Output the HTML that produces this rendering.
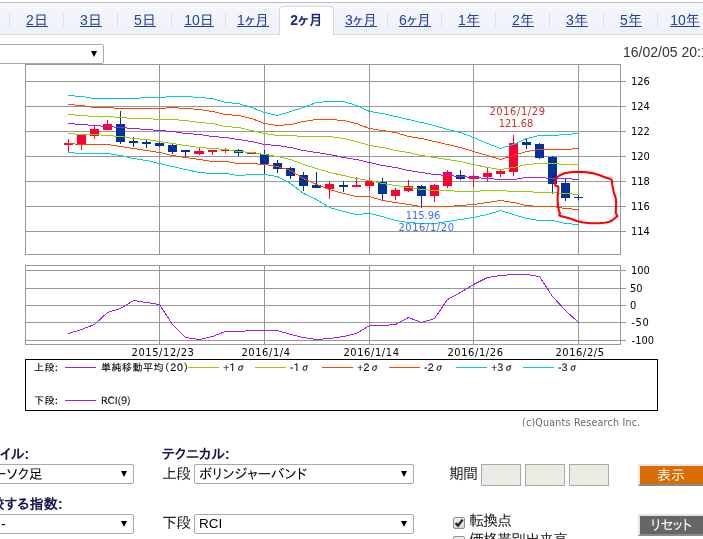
<!DOCTYPE html>
<html lang="ja"><head><meta charset="utf-8"><title>chart</title>
<style>
html,body{margin:0;padding:0;background:#fff;}
body{width:703px;height:539px;position:relative;overflow:hidden;font-family:"Liberation Sans","IPAPGothic","IPAGothic","Noto Sans CJK JP",sans-serif;color:#000;}
.abs{position:absolute;white-space:nowrap;}
.chart{position:absolute;left:0;top:0;}
#tabbar{position:absolute;left:0;top:2px;width:703px;height:33px;background:linear-gradient(#f6f7fc,#eef1f9);border-top:1px solid #bdbdbd;border-bottom:1px solid #dcdee4;box-sizing:border-box;}
.tab{position:absolute;top:6px;width:55px;height:28px;text-align:center;font-size:14px;line-height:29px;color:#2342a6;box-sizing:border-box;padding-left:1px;}
.tab a{text-decoration:underline;color:#2342a6;}
.tab.act{background:#fff;border:1px solid #d5d8e5;border-bottom:none;border-radius:4px 4px 0 0;height:29px;line-height:27px;color:#1c2a80;padding-left:0;letter-spacing:0.2px;}
.sep{position:absolute;top:13px;width:1px;height:14px;background:#dddfe5;}
.ax{position:absolute;font-family:"DejaVu Sans Condensed","DejaVu Sans","Liberation Sans",sans-serif;font-size:11px;line-height:11px;white-space:nowrap;color:#000;}
.axd{letter-spacing:0.6px;}
.lg{-webkit-text-stroke:0.1px #000;position:absolute;font-family:"IPAPGothic","IPAGothic","Noto Sans CJK JP",sans-serif;font-size:10px;line-height:10px;white-space:nowrap;color:#000;}
.sel{position:absolute;box-sizing:border-box;height:20px;border:1px solid #a9a9a9;border-radius:2px;background:#fff;font-size:14px;line-height:18px;padding-left:4px;white-space:nowrap;overflow:hidden;}
.sel:after{content:"";position:absolute;right:6px;top:6px;border-left:3.5px solid transparent;border-right:3.5px solid transparent;border-top:6px solid #000;}
.lab{position:absolute;font-size:15px;line-height:14px;letter-spacing:-1px;white-space:nowrap;color:#222;}
.blab{position:absolute;font-size:14px;line-height:14px;font-weight:bold;white-space:nowrap;color:#15154f;}
.inp{position:absolute;box-sizing:border-box;width:40px;height:22px;top:464px;background:#ebebe4;border:1px solid #a9a9a9;}
.btn{position:absolute;left:638px;width:72px;padding-right:6px;height:22px;box-sizing:border-box;border:2px solid;border-color:#e4e4e4 #8a8a8a #8a8a8a #e4e4e4;color:#fff;font-size:14px;line-height:18px;text-align:center;}
</style></head><body>
<div id="tabbar"></div>
<i class="sep" style="left:9px"></i><i class="sep" style="left:63px"></i><i class="sep" style="left:117px"></i><i class="sep" style="left:171px"></i><i class="sep" style="left:225px"></i><i class="sep" style="left:387px"></i><i class="sep" style="left:441px"></i><i class="sep" style="left:495px"></i><i class="sep" style="left:549px"></i><i class="sep" style="left:603px"></i><i class="sep" style="left:657px"></i><i class="sep" style="left:711px"></i>
<div class="tab" style="left:9px"><a>2日</a></div>
<div class="tab" style="left:63px"><a>3日</a></div>
<div class="tab" style="left:117px"><a>5日</a></div>
<div class="tab" style="left:171px"><a>10日</a></div>
<div class="tab" style="left:225px"><a>1ヶ月</a></div>
<div class="tab act" style="left:279px"><b>2ヶ月</b></div>
<div class="tab" style="left:333px"><a>3ヶ月</a></div>
<div class="tab" style="left:387px"><a>6ヶ月</a></div>
<div class="tab" style="left:441px"><a>1年</a></div>
<div class="tab" style="left:495px"><a>2年</a></div>
<div class="tab" style="left:549px"><a>3年</a></div>
<div class="tab" style="left:603px"><a>5年</a></div>
<div class="tab" style="left:657px"><a>10年</a></div>
<svg class="chart" width="703" height="539" viewBox="0 0 703 539" shape-rendering="crispEdges">
<g fill="#999999"><rect x="25" y="81" width="601" height="1"/><rect x="25" y="106" width="601" height="1"/><rect x="25" y="131" width="601" height="1"/><rect x="25" y="156" width="601" height="1"/><rect x="25" y="181" width="601" height="1"/><rect x="25" y="206" width="601" height="1"/><rect x="25" y="231" width="601" height="1"/><rect x="25" y="270" width="601" height="1"/><rect x="25" y="288" width="601" height="1"/><rect x="25" y="305" width="601" height="1"/><rect x="25" y="322" width="601" height="1"/><rect x="25" y="340" width="601" height="1"/><rect x="159" y="64" width="1" height="190"/><rect x="159" y="265" width="1" height="80"/><rect x="264" y="64" width="1" height="190"/><rect x="264" y="265" width="1" height="80"/><rect x="369" y="64" width="1" height="190"/><rect x="369" y="265" width="1" height="80"/><rect x="473" y="64" width="1" height="190"/><rect x="473" y="265" width="1" height="80"/><rect x="578" y="64" width="1" height="190"/><rect x="578" y="265" width="1" height="80"/></g>
<g fill="none" stroke="#999999" stroke-width="1"><rect x="25.5" y="64.5" width="595" height="190"/><rect x="25.5" y="265.5" width="595" height="79"/></g>
<g fill="#ff0033"><rect x="68" y="139" width="1" height="13"/><rect x="64" y="143" width="9" height="2"/></g><g fill="#ff0033"><rect x="81" y="135" width="1" height="15"/><rect x="77" y="135" width="9" height="9"/></g><g fill="#ff0033"><rect x="94" y="126" width="1" height="13"/><rect x="90" y="129" width="9" height="7"/></g><g fill="#ff0033"><rect x="107" y="120" width="1" height="10"/><rect x="103" y="124" width="9" height="6"/></g><g fill="#003399"><rect x="120" y="111" width="1" height="33"/><rect x="116" y="124" width="9" height="18"/></g><g fill="#003399"><rect x="133" y="137" width="1" height="10"/><rect x="129" y="141" width="9" height="2"/></g><g fill="#003399"><rect x="146" y="140" width="1" height="8"/><rect x="142" y="142" width="9" height="2"/></g><g fill="#003399"><rect x="159" y="142" width="1" height="5"/><rect x="155" y="143" width="9" height="3"/></g><g fill="#003399"><rect x="172" y="144" width="1" height="10"/><rect x="168" y="145" width="9" height="7"/></g><g fill="#003399"><rect x="185" y="150" width="1" height="7"/><rect x="181" y="150" width="9" height="2"/></g><g fill="#ff0033"><rect x="199" y="148" width="1" height="7"/><rect x="194" y="151" width="10" height="3"/></g><g fill="#ff0033"><rect x="212" y="150" width="1" height="5"/><rect x="208" y="150" width="9" height="2"/></g><g fill="#ff0033"><rect x="225" y="148" width="1" height="5"/><rect x="221" y="150" width="9" height="1"/></g><g fill="#003399"><rect x="238" y="149" width="1" height="7"/><rect x="234" y="150" width="9" height="3"/></g><g fill="#ff0033"><rect x="251" y="152" width="1" height="2"/><rect x="247" y="152" width="9" height="2"/></g><g fill="#003399"><rect x="264" y="150" width="1" height="24"/><rect x="260" y="154" width="9" height="10"/></g><g fill="#003399"><rect x="277" y="160" width="1" height="13"/><rect x="273" y="163" width="9" height="6"/></g><g fill="#003399"><rect x="290" y="167" width="1" height="12"/><rect x="286" y="168" width="9" height="8"/></g><g fill="#003399"><rect x="303" y="172" width="1" height="19"/><rect x="299" y="175" width="9" height="11"/></g><g fill="#003399"><rect x="316" y="172" width="1" height="16"/><rect x="312" y="185" width="9" height="3"/></g><g fill="#ff0033"><rect x="329" y="181" width="1" height="18"/><rect x="325" y="184" width="9" height="5"/></g><g fill="#003399"><rect x="343" y="181" width="1" height="11"/><rect x="339" y="185" width="9" height="2"/></g><g fill="#ff0033"><rect x="356" y="177" width="1" height="10"/><rect x="352" y="185" width="9" height="2"/></g><g fill="#ff0033"><rect x="369" y="178" width="1" height="13"/><rect x="365" y="181" width="9" height="5"/></g><g fill="#003399"><rect x="382" y="178" width="1" height="22"/><rect x="378" y="182" width="9" height="12"/></g><g fill="#ff0033"><rect x="395" y="188" width="1" height="12"/><rect x="391" y="190" width="9" height="6"/></g><g fill="#ff0033"><rect x="408" y="180" width="1" height="12"/><rect x="404" y="186" width="9" height="5"/></g><g fill="#003399"><rect x="421" y="185" width="1" height="23"/><rect x="417" y="186" width="9" height="10"/></g><g fill="#ff0033"><rect x="434" y="184" width="1" height="18"/><rect x="430" y="185" width="9" height="11"/></g><g fill="#ff0033"><rect x="447" y="170" width="1" height="18"/><rect x="443" y="172" width="9" height="14"/></g><g fill="#003399"><rect x="460" y="170" width="1" height="10"/><rect x="456" y="175" width="9" height="4"/></g><g fill="#ff0033"><rect x="473" y="174" width="1" height="13"/><rect x="469" y="176" width="10" height="3"/></g><g fill="#ff0033"><rect x="487" y="168" width="1" height="14"/><rect x="483" y="173" width="9" height="4"/></g><g fill="#ff0033"><rect x="500" y="170" width="1" height="7"/><rect x="496" y="171" width="9" height="3"/></g><g fill="#ff0033"><rect x="513" y="135" width="1" height="41"/><rect x="509" y="143" width="9" height="29"/></g><g fill="#003399"><rect x="526" y="138" width="1" height="11"/><rect x="522" y="142" width="9" height="3"/></g><g fill="#003399"><rect x="539" y="143" width="1" height="16"/><rect x="535" y="144" width="9" height="14"/></g><g fill="#003399"><rect x="552" y="156" width="1" height="38"/><rect x="548" y="157" width="9" height="27"/></g><g fill="#003399"><rect x="565" y="179" width="1" height="22"/><rect x="561" y="183" width="9" height="15"/></g><g fill="#003399"><rect x="578" y="194" width="1" height="6"/><rect x="574" y="197" width="9" height="1"/></g>
<polyline fill="none" stroke="#00ced1" stroke-width="1" stroke-linecap="square" points="68.5,95.5 81.5,96.5 94.5,98.5 107.5,98.5 120.5,98.5 133.5,98.5 146.5,97.5 159.5,97.5 172.5,96.5 185.5,96.5 199.5,97.5 212.5,98.5 225.5,102.5 238.5,103.5 251.5,107.5 264.5,112.5 277.5,115.5 290.5,111.5 303.5,107.5 316.5,102.5 329.5,101.5 343.5,101.5 356.5,105.5 369.5,111.5 382.5,113.5 395.5,116.5 408.5,119.5 421.5,122.5 434.5,125.5 447.5,129.5 460.5,132.5 473.5,137.5 487.5,143.5 500.5,148.5 513.5,144.5 526.5,138.5 539.5,135.5 552.5,135.5 565.5,134.5 578.5,133.5"/>
<polyline fill="none" stroke="#00ced1" stroke-width="1" stroke-linecap="square" points="68.5,152.5 81.5,153.5 94.5,153.5 107.5,153.5 120.5,155.5 133.5,158.5 146.5,160.5 159.5,163.5 172.5,166.5 185.5,169.5 199.5,172.5 212.5,173.5 225.5,173.5 238.5,175.5 251.5,174.5 264.5,174.5 277.5,176.5 290.5,183.5 303.5,193.5 316.5,199.5 329.5,207.5 343.5,211.5 356.5,214.5 369.5,213.5 382.5,216.5 395.5,220.5 408.5,222.5 421.5,223.5 434.5,223.5 447.5,221.5 460.5,219.5 473.5,217.5 487.5,214.5 500.5,210.5 513.5,214.5 526.5,218.5 539.5,220.5 552.5,220.5 565.5,223.5 578.5,224.5"/>
<polyline fill="none" stroke="#ff4500" stroke-width="1" stroke-linecap="square" points="68.5,104.5 81.5,105.5 94.5,107.5 107.5,107.5 120.5,108.5 133.5,108.5 146.5,108.5 159.5,108.5 172.5,107.5 185.5,108.5 199.5,109.5 212.5,111.5 225.5,114.5 238.5,115.5 251.5,118.5 264.5,123.5 277.5,125.5 290.5,124.5 303.5,121.5 316.5,119.5 329.5,119.5 343.5,120.5 356.5,123.5 369.5,128.5 382.5,130.5 395.5,132.5 408.5,136.5 421.5,138.5 434.5,141.5 447.5,144.5 460.5,147.5 473.5,151.5 487.5,155.5 500.5,159.5 513.5,155.5 526.5,151.5 539.5,149.5 552.5,149.5 565.5,149.5 578.5,148.5"/>
<polyline fill="none" stroke="#ff4500" stroke-width="1" stroke-linecap="square" points="68.5,143.5 81.5,144.5 94.5,144.5 107.5,144.5 120.5,146.5 133.5,148.5 146.5,150.5 159.5,152.5 172.5,155.5 185.5,157.5 199.5,159.5 212.5,161.5 225.5,161.5 238.5,163.5 251.5,163.5 264.5,164.5 277.5,166.5 290.5,170.5 303.5,178.5 316.5,184.5 329.5,189.5 343.5,193.5 356.5,196.5 369.5,196.5 382.5,200.5 395.5,202.5 408.5,204.5 421.5,206.5 434.5,206.5 447.5,206.5 460.5,205.5 473.5,204.5 487.5,202.5 500.5,200.5 513.5,202.5 526.5,205.5 539.5,206.5 552.5,206.5 565.5,208.5 578.5,209.5"/>
<polyline fill="none" stroke="#99cc00" stroke-width="1" stroke-linecap="square" points="68.5,114.5 81.5,115.5 94.5,116.5 107.5,116.5 120.5,117.5 133.5,118.5 146.5,118.5 159.5,119.5 172.5,119.5 185.5,120.5 199.5,122.5 212.5,123.5 225.5,126.5 238.5,127.5 251.5,130.5 264.5,133.5 277.5,135.5 290.5,135.5 303.5,136.5 316.5,136.5 329.5,136.5 343.5,138.5 356.5,141.5 369.5,145.5 382.5,147.5 395.5,150.5 408.5,152.5 421.5,155.5 434.5,157.5 447.5,159.5 460.5,161.5 473.5,164.5 487.5,167.5 500.5,169.5 513.5,167.5 526.5,164.5 539.5,163.5 552.5,163.5 565.5,164.5 578.5,164.5"/>
<polyline fill="none" stroke="#99cc00" stroke-width="1" stroke-linecap="square" points="68.5,133.5 81.5,134.5 94.5,134.5 107.5,135.5 120.5,136.5 133.5,138.5 146.5,139.5 159.5,141.5 172.5,143.5 185.5,145.5 199.5,147.5 212.5,148.5 225.5,149.5 238.5,151.5 251.5,152.5 264.5,154.5 277.5,156.5 290.5,159.5 303.5,164.5 316.5,168.5 329.5,172.5 343.5,175.5 356.5,178.5 369.5,180.5 382.5,183.5 395.5,185.5 408.5,187.5 421.5,189.5 434.5,190.5 447.5,190.5 460.5,191.5 473.5,191.5 487.5,190.5 500.5,190.5 513.5,191.5 526.5,191.5 539.5,192.5 552.5,192.5 565.5,193.5 578.5,194.5"/>
<polyline fill="none" stroke="#a020f0" stroke-width="1" stroke-linecap="square" points="68.5,123.5 81.5,124.5 94.5,125.5 107.5,126.5 120.5,127.5 133.5,128.5 146.5,129.5 159.5,130.5 172.5,131.5 185.5,133.5 199.5,134.5 212.5,136.5 225.5,137.5 238.5,139.5 251.5,141.5 264.5,144.5 277.5,145.5 290.5,147.5 303.5,150.5 316.5,152.5 329.5,154.5 343.5,157.5 356.5,159.5 369.5,162.5 382.5,165.5 395.5,167.5 408.5,170.5 421.5,172.5 434.5,174.5 447.5,175.5 460.5,176.5 473.5,177.5 487.5,178.5 500.5,179.5 513.5,179.5 526.5,177.5 539.5,177.5 552.5,178.5 565.5,178.5 578.5,179.5"/>
<polyline fill="none" stroke="#a020f0" stroke-width="1" stroke-linecap="square" points="68.5,333.5 81.5,329.5 94.5,324.5 107.5,312.5 120.5,308.5 133.5,300.5 146.5,302.5 159.5,304.5 172.5,324.5 185.5,337.5 199.5,339.5 212.5,336.5 225.5,331.5 238.5,331.5 251.5,330.5 264.5,330.5 277.5,330.5 290.5,334.5 303.5,337.5 316.5,339.5 329.5,338.5 343.5,336.5 356.5,333.5 369.5,325.5 382.5,325.5 395.5,324.5 408.5,317.5 421.5,322.5 434.5,318.5 447.5,299.5 460.5,292.5 473.5,284.5 487.5,277.5 500.5,275.5 513.5,274.5 526.5,274.5 539.5,276.5 552.5,296.5 565.5,310.5 578.5,322.5"/>
<rect x="25.5" y="359.5" width="632" height="51" fill="#fff" stroke="#000" stroke-width="1"/>
<rect x="65" y="367" width="31" height="1" fill="#a020f0"/>
<rect x="188" y="367" width="31" height="1" fill="#99cc00"/>
<rect x="255" y="367" width="31" height="1" fill="#99cc00"/>
<rect x="322" y="367" width="31" height="1" fill="#ff4500"/>
<rect x="389" y="367" width="31" height="1" fill="#ff4500"/>
<rect x="456" y="367" width="31" height="1" fill="#00ced1"/>
<rect x="523" y="367" width="31" height="1" fill="#00ced1"/>
<rect x="65" y="400" width="31" height="1" fill="#a020f0"/>
</svg>
<div class="sel" style="left:-40px;top:44px;width:144px;"></div>
<div class="abs" style="left:623px;top:44px;font-size:14px;line-height:16px;color:#333;">16/02/05 20:15</div>
<div class="ax" style="left:631px;top:76px;">126</div>
<div class="ax" style="left:631px;top:101px;">124</div>
<div class="ax" style="left:631px;top:126px;">122</div>
<div class="ax" style="left:631px;top:151px;">120</div>
<div class="ax" style="left:631px;top:176px;">118</div>
<div class="ax" style="left:631px;top:201px;">116</div>
<div class="ax" style="left:631px;top:226px;">114</div>
<div class="ax" style="left:631px;top:265px;">100</div>
<div class="ax" style="left:630px;top:283px;">50</div>
<div class="ax" style="left:630px;top:300px;">0</div>
<div class="ax" style="left:631.2px;top:317px;letter-spacing:0.7px;">-50</div>
<div class="ax" style="left:631.6px;top:335px;">-100</div>
<div class="ax axd" style="left:163px;top:347px;width:100px;margin-left:-50px;text-align:center;">2015/12/23</div>
<div class="ax axd" style="left:266px;top:347px;width:100px;margin-left:-50px;text-align:center;">2016/1/4</div>
<div class="ax axd" style="left:371.5px;top:347px;width:100px;margin-left:-50px;text-align:center;">2016/1/14</div>
<div class="ax axd" style="left:475.5px;top:347px;width:100px;margin-left:-50px;text-align:center;">2016/1/26</div>
<div class="ax axd" style="left:580px;top:347px;width:100px;margin-left:-50px;text-align:center;">2016/2/5</div>
<div class="ax axd" style="left:517.5px;top:106px;width:100px;margin-left:-50px;text-align:center;color:#c83232;">2016/1/29</div>
<div class="ax" style="left:516px;top:118px;width:100px;margin-left:-50px;text-align:center;color:#c83232;">121.68</div>
<div class="ax" style="left:423px;top:210px;width:100px;margin-left:-50px;text-align:center;color:#3a6bff;">115.96</div>
<div class="ax axd" style="left:426.5px;top:222px;width:100px;margin-left:-50px;text-align:center;color:#3a6bff;">2016/1/20</div>
<svg class="chart" width="703" height="539" viewBox="0 0 703 539"><path d="M555.3,180.2 L556.7,177.5 L560.0,175.2 L564.5,173.3 L570.0,172.2 L577.8,171.7 L584.5,172.0 L592.3,173.1 L599.0,174.9 L605.6,177.5 L610.6,179.1 L611.8,180.2 L612.3,184.7 L613.4,190.3 L614.5,194.7 L615.7,198.0 L616.2,202.5 L615.9,208.1 L615.7,212.5 L616.8,215.3 L617.5,216.1 L615.7,217.5 L612.3,220.3 L609.0,222.0 L604.5,222.8 L597.9,223.3 L591.2,223.3 L583.4,222.5 L576.7,220.9 L570.0,218.6 L564.5,217.0 L560.6,216.1 L559.1,215.3 L560.0,213.6 L558.9,210.3 L558.0,205.8 L557.6,200.3 L557.8,194.7 L558.3,190.3 L558.3,186.4 L555.6,185.8 L554.7,183.6 L555.3,180.2Z" fill="none" stroke="#ff0000" stroke-width="2.1" stroke-linejoin="round"/></svg>
<div class="lg" style="left:34px;top:362px;letter-spacing:0.4px;">上段:</div>
<div class="lg" style="left:101px;top:362px;letter-spacing:0.5px;">単純移動平均（20）</div>
<div class="lg" style="left:223px;top:362px;">+1σ</div>
<div class="lg" style="left:290px;top:362px;">-1σ</div>
<div class="lg" style="left:357px;top:362px;">+2σ</div>
<div class="lg" style="left:424px;top:362px;">-2σ</div>
<div class="lg" style="left:491px;top:362px;">+3σ</div>
<div class="lg" style="left:558px;top:362px;">-3σ</div>
<div class="lg" style="left:34px;top:395px;letter-spacing:0.4px;">下段:</div>
<div class="lg" style="left:101px;top:395px;">RCI(9)</div>
<div class="abs" style="left:522px;top:416px;height:10.5px;overflow:hidden;font-size:10.5px;line-height:12px;letter-spacing:0.25px;color:#666;font-family:'DejaVu Sans Condensed','DejaVu Sans',sans-serif;">(c)Quants Research Inc.</div>

<div class="blab" style="left:-24px;top:447px;">スタイル:</div>
<div class="sel" style="left:-30px;top:464px;width:164px;padding-left:10px;">ローソク足</div>
<div class="blab" style="left:162px;top:447px;">テクニカル:</div>
<div class="lab" style="left:162px;top:467px;">上段</div>
<div class="sel" style="left:194px;top:464px;width:220px;">ボリンジャーバンド</div>
<div class="lab" style="left:449px;top:467px;">期間</div>
<div class="inp" style="left:481px;"></div><div class="inp" style="left:525px;"></div><div class="inp" style="left:569px;"></div>
<div class="btn" style="top:464px;background:#d96b00;">表示</div>

<div class="blab" style="left:-24px;top:497px;letter-spacing:0.3px;">比較する指数:</div>
<div class="sel" style="left:-30px;top:514px;width:164px;padding-left:30px;">-</div>
<div class="lab" style="left:162px;top:516px;">下段</div>
<div class="sel" style="left:194px;top:514px;width:220px;font-size:13.5px;">RCI</div>
<div class="abs" style="left:453px;top:517px;width:12px;height:12px;box-sizing:border-box;border:1px solid #8f8f8f;border-radius:2px;background:linear-gradient(#efefef,#d8d8d8);"><svg width="10" height="10" viewBox="0 0 10 10" style="position:absolute;left:0;top:0"><path d="M1.6 5 L4 7.6 L8.6 1.6" fill="none" stroke="#262626" stroke-width="2.3"/></svg></div>
<div class="lab" style="left:469px;top:514px;">転換点</div>
<div class="btn" style="top:514px;background:#666;letter-spacing:-0.6px;">リセット</div>
<div class="abs" style="left:453px;top:536px;width:12px;height:12px;box-sizing:border-box;border:1px solid #8f8f8f;border-radius:2px;background:linear-gradient(#efefef,#d8d8d8);"></div>
<div class="lab" style="left:469px;top:533px;">価格帯別出来高</div>
</body></html>
